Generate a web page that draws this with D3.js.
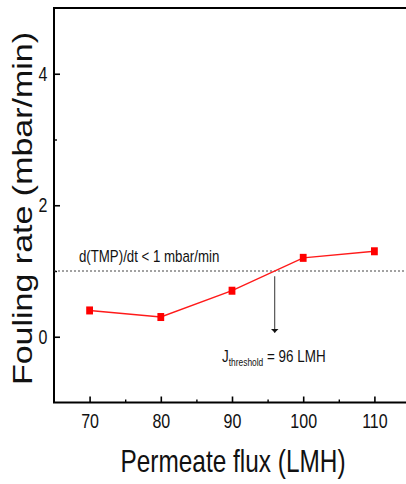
<!DOCTYPE html>
<html>
<head>
<meta charset="utf-8">
<script src="https://cdn.jsdelivr.net/npm/d3@7"></script>
<style>
  html, body { margin: 0; padding: 0; background: #fff; }
  svg { display: block; }
  text { font-family: "Liberation Sans", Arial, sans-serif; fill: #111; }
</style>
</head>
<body>
<svg id="chart" width="406" height="484"></svg>
<script>
// Fouling rate measured at each permeate flux step
const flux = [70, 80, 90, 100, 110];
const foulingRate = [0.4, 0.3, 0.7, 1.2, 1.3];

// Axis ticks
const xTicks = [70, 80, 90, 100, 110];
const xMinorTicks = [75, 85, 95, 105];
const yTicks = [0, 2, 4];
const yMinorTicks = [1, 3];

// Critical fouling criterion and threshold flux
const criterionRate = [1];
const thresholdFlux = [96];
const arrowSpan = [0.92, 0.06];

const W = 406, H = 484;
const margin = { left: 54, top: 8, right: -4, bottom: 81.5 };
const svg = d3.select("#chart");

const x = d3.scaleLinear().domain([65, 115]).range([margin.left, W - margin.right]);
const y = d3.scaleLinear().domain([-1, 5]).range([H - margin.bottom, margin.top]);

const SX = 0.8; // horizontal squeeze applied to all lettering

// frame
svg.append("rect")
  .attr("x", x(65)).attr("y", y(5))
  .attr("width", x(115) - x(65)).attr("height", y(-1) - y(5))
  .attr("fill", "none").attr("stroke", "#000").attr("stroke-width", 2);

// bottom axis: major ticks pointing inward
const gx = svg.append("g").attr("transform", `translate(0,${y(-1)})`)
  .call(d3.axisBottom(x).tickValues(xTicks).tickSizeInner(-6).tickSizeOuter(0).tickPadding(11));
gx.select(".domain").remove();
gx.selectAll(".tick line").attr("stroke", "#000").attr("stroke-width", 1.6);
gx.selectAll(".tick text").attr("font-size", 20).attr("fill", "#111")
  .attr("font-family", "Liberation Sans, Arial, sans-serif")
  .attr("transform", `scale(${SX},1)`);

const gxm = svg.append("g").attr("transform", `translate(0,${y(-1)})`)
  .call(d3.axisBottom(x).tickValues(xMinorTicks).tickSizeInner(-3).tickSizeOuter(0).tickFormat(""));
gxm.select(".domain").remove();
gxm.selectAll(".tick line").attr("stroke", "#000").attr("stroke-width", 1.4);

// left axis
const gy = svg.append("g").attr("transform", `translate(${x(65)},0)`)
  .call(d3.axisLeft(y).tickValues(yTicks).tickSizeInner(-6).tickSizeOuter(0).tickFormat(d3.format("d")));
gy.select(".domain").remove();
gy.selectAll(".tick line").attr("stroke", "#000").attr("stroke-width", 1.6);
gy.selectAll(".tick text").attr("font-size", 20).attr("fill", "#111")
  .attr("font-family", "Liberation Sans, Arial, sans-serif")
  .attr("x", 0)
  .attr("transform", `translate(-6.5,0) scale(${SX},1)`);

const gym = svg.append("g").attr("transform", `translate(${x(65)},0)`)
  .call(d3.axisLeft(y).tickValues(yMinorTicks).tickSizeInner(-3).tickSizeOuter(0).tickFormat(""));
gym.select(".domain").remove();
gym.selectAll(".tick line").attr("stroke", "#000").attr("stroke-width", 1.4);

// criterion line
svg.selectAll(".crit").data(criterionRate).enter().append("line")
  .attr("class", "crit")
  .attr("x1", x(65)).attr("x2", x(115))
  .attr("y1", d => y(d)).attr("y2", d => y(d))
  .attr("stroke", "#444").attr("stroke-width", 1).attr("stroke-dasharray", "2,2");

svg.append("text")
  .attr("transform", `translate(${x(68.5)},${y(1.14)}) scale(${SX + 0.03},1)`)
  .attr("font-size", 16)
  .text("d(TMP)/dt < 1 mbar/min");

// data series
const pts = flux.map((f, i) => [f, foulingRate[i]]);
svg.append("path")
  .datum(pts)
  .attr("fill", "none").attr("stroke", "#ff1a1a").attr("stroke-width", 1.4)
  .attr("d", d3.line().x(d => x(d[0])).y(d => y(d[1])));

svg.selectAll(".pt").data(pts).enter().append("rect")
  .attr("class", "pt")
  .attr("x", d => x(d[0]) - 3.4).attr("y", d => y(d[1]) - 4)
  .attr("width", 6.8).attr("height", 8)
  .attr("fill", "#ff0000");

// threshold arrow
svg.append("defs").append("marker")
  .attr("id", "head").attr("viewBox", "0 0 4 8")
  .attr("refX", 4).attr("refY", 4)
  .attr("markerWidth", 4).attr("markerHeight", 8)
  .attr("markerUnits", "userSpaceOnUse")
  .attr("orient", "auto")
  .append("path").attr("d", "M0,0 L4,4 L0,8 Z").attr("fill", "#111");

svg.selectAll(".arrow").data(thresholdFlux).enter().append("line")
  .attr("class", "arrow")
  .attr("x1", d => x(d)).attr("x2", d => x(d))
  .attr("y1", y(arrowSpan[0])).attr("y2", y(arrowSpan[1]))
  .attr("stroke", "#333").attr("stroke-width", 1)
  .attr("marker-end", "url(#head)");

const jt = svg.append("text")
  .attr("transform", `translate(${x(88.6)},${y(-0.38)}) scale(${SX + 0.04},1)`)
  .attr("font-size", 16);
jt.append("tspan").text("J");
jt.append("tspan").attr("font-size", 10).attr("dy", 4).text("threshold");
jt.append("tspan").attr("dy", -4).text(` = ${thresholdFlux[0]} LMH`);

// axis titles
svg.append("text")
  .attr("transform", `translate(${(x(65) + x(115) - 4) / 2 + 3},471.5) scale(${SX},1)`)
  .attr("text-anchor", "middle")
  .attr("font-size", 30.5)
  .text("Permeate flux (LMH)");

svg.append("text")
  .attr("transform", `translate(32,208.5) scale(${SX},1) rotate(-90)`)
  .attr("text-anchor", "middle")
  .attr("font-size", 34)
  .text("Fouling rate (mbar/min)");
</script>
</body>
</html>
